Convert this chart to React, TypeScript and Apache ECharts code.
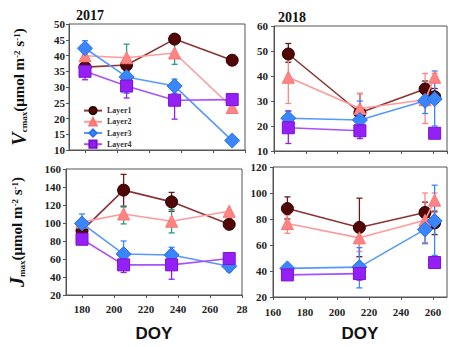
import React, { useEffect, useRef } from "react";
import * as echarts from "echarts";

const layers = ["Layer1", "Layer2", "Layer3", "Layer4"];
const doy2017 = [180, 206, 236, 272];
const doy2018 = [169, 214, 255, 261];

// Vcmax 2017
const v17L1 = [36.3, 37.0, 45.2, 38.5];
const v17L2 = [39.9, 39.3, 40.8, 23.5];
const v17L3 = [42.3, 33.2, 30.3, 13.0];
const v17L4 = [35.0, 30.3, 25.8, 26.0];
const v17E1 = [null, [35, 39], null, null];
const v17E2 = [null, [38.8, 43.6], [37.2, 44.5], null];
const v17E3 = [[40, 44.7], [28, 38.5], [28, 32.5], null];
const v17E4 = [[32.3, 36], [26.5, 34], [19.8, 31], null];

// Vcmax 2018
const v18L1 = [48.8, 25.3, 34.8, 31.7];
const v18L2 = [39.5, 27.0, 30.5, 39.5];
const v18L3 = [23.1, 22.4, 30.1, 30.8];
const v18L4 = [19.3, 18.1, null, 17.1];
const v18E1 = [[45.5, 53], [23, 33], [31, 38], [29, 35]];
const v18E2 = [[29, 49], [22, 33], [21, 41], [33, 41]];
const v18E3 = [[20, 26], [15, 30], [25, 35], [20, 42]];
const v18E4 = [[13, 26], [15, 21], null, null];

// Jmax 2017
const j17L1 = [91.5, 136.5, 123.5, 98.5];
const j17L2 = [101, 110, 102, 113];
const j17L3 = [99.5, 65.5, 64.5, 52];
const j17L4 = [82, 53.5, 53.5, 60.5];
const j17E1 = [[85, 98], [118, 154], [113, 134], null];
const j17E2 = [null, [99, 119], [89, 115], null];
const j17E3 = [[90, 110], [52, 80], [57, 73], [46, 58]];
const j17E4 = [[76, 88], [45, 60], [37.5, 68], null];

// Jmax 2018
const j18L1 = [88, 73.5, 85, 77];
const j18L2 = [76.5, 65.5, 79, 94.5];
const j18L3 = [42, 43, 72, 78.5];
const j18L4 = [37, 38, null, 46.5];
const j18E1 = [[80, 97], [51, 96], [77, 93], [68, 86]];
const j18E2 = [[69, 83], [55, 75], [62, 100], [85, 100]];
const j18E3 = [[39, 45], [27, 58], [61, 83], [52, 106]];
const j18E4 = [null, [33, 43], null, null];

const ticks2017 = [180, 200, 220, 240, 260, 280];

const lineColors = ["#8a3434", "#ff9a9a", "#5598ff", "#a850ff"];
const markColors = ["#520606", "#ff8585", "#3a86ff", "#9520f5"];
const markBorders = ["#2a0000", "#ff7070", "#2a70e0", "#7a10d0"];
const symbols = ["circle", "triangle", "diamond", "rect"];
const sizes = [12, 12, 15, 12];
const errColors2017 = ["#6a1a1a", "#2e9a80", "#3a86ff", "#9520f5"];
const errColors2018 = ["#6a1a1a", "#ff8585", "#3a86ff", "#9520f5"];

const serif = "'Liberation Serif', 'Times New Roman', serif";

function App() {
  const ref = useRef<HTMLDivElement>(null);
  useEffect(() => {
    document.body.style.margin = "0";
    if (!ref.current) return;
    const chart = echarts.init(ref.current, null, { renderer: "svg" });

    const panels = [
      { grid: 0, doy: doy2017, vals: [v17L1, v17L2, v17L3, v17L4], errs: [v17E1, v17E2, v17E3, v17E4], errColors: errColors2017 },
      { grid: 1, doy: doy2018, vals: [v18L1, v18L2, v18L3, v18L4], errs: [v18E1, v18E2, v18E3, v18E4], errColors: errColors2018 },
      { grid: 2, doy: doy2017, vals: [j17L1, j17L2, j17L3, j17L4], errs: [j17E1, j17E2, j17E3, j17E4], errColors: errColors2017 },
      { grid: 3, doy: doy2018, vals: [j18L1, j18L2, j18L3, j18L4], errs: [j18E1, j18E2, j18E3, j18E4], errColors: errColors2018 },
    ];

    const series: any[] = [];
    panels.forEach((p) => {
      p.errs.forEach((errArr: any[], li: number) => {
        const data: any[] = [];
        errArr.forEach((e: any, i: number) => {
          if (e) data.push([p.doy[i], e[0], e[1]]);
        });
        const col = p.errColors[li];
        series.push({
          type: "custom",
          xAxisIndex: p.grid,
          yAxisIndex: p.grid,
          z: 1,
          silent: true,
          encode: { x: 0, y: [1, 2] },
          data,
          renderItem: (params: any, api: any) => {
            const x = api.value(0);
            const lo = api.coord([x, api.value(1)]);
            const hi = api.coord([x, api.value(2)]);
            const c = 3;
            const st = { stroke: col, lineWidth: 1.3 };
            return {
              type: "group",
              children: [
                { type: "line", shape: { x1: hi[0], y1: hi[1], x2: lo[0], y2: lo[1] }, style: st },
                { type: "line", shape: { x1: hi[0] - c, y1: hi[1], x2: hi[0] + c, y2: hi[1] }, style: st },
                { type: "line", shape: { x1: lo[0] - c, y1: lo[1], x2: lo[0] + c, y2: lo[1] }, style: st },
              ],
            };
          },
        });
      });
      p.vals.forEach((vals: any[], li: number) => {
        series.push({
          type: "line",
          name: layers[li],
          xAxisIndex: p.grid,
          yAxisIndex: p.grid,
          z: 2 + li,
          connectNulls: false,
          data: vals.map((v, i) => [p.doy[i], v]),
          symbol: symbols[li],
          symbolSize: sizes[li],
          lineStyle: { color: lineColors[li], width: 1.6 },
          itemStyle: { color: markColors[li], borderColor: markBorders[li], borderWidth: 1 },
        });
      });
    });

    const axisLineStyle = { lineStyle: { color: "#555", width: 1 } };
    const tickStyle = { show: true, length: 3, lineStyle: { color: "#555" } };
    const labelStyle = { fontFamily: serif, fontWeight: "bold" as const, fontSize: 11, color: "#222" };

    const yName = (letter: string, sub: string) =>
      `{v|${letter}}{sub|${sub}}{m|(μmol m}{sup|-2}{m| s}{sup|-1}{m|)}`;
    const yRich = {
      v: { fontFamily: serif, fontStyle: "italic", fontWeight: "bold", fontSize: 20, color: "#111", verticalAlign: "middle" },
      sub: { fontFamily: serif, fontWeight: "bold", fontSize: 9, color: "#111", verticalAlign: "bottom", padding: [0, 0, 1, 0] },
      m: { fontFamily: serif, fontWeight: "bold", fontSize: 15, color: "#111", verticalAlign: "middle" },
      sup: { fontFamily: serif, fontWeight: "bold", fontSize: 9, color: "#111", verticalAlign: "top", padding: [3, 0, 0, 0] },
    };

    const option: any = {
      animation: false,
      title: [
        { text: "2017", left: 71, top: 3, textStyle: { fontFamily: serif, fontWeight: "bold", fontSize: 14, color: "#111" } },
        { text: "2018", left: 273, top: 5, textStyle: { fontFamily: serif, fontWeight: "bold", fontSize: 14, color: "#111" } },
      ],
      legend: {
        data: layers,
        orient: "vertical",
        left: 78,
        top: 101,
        itemGap: 2,
        itemWidth: 18,
        itemHeight: 9,
        textStyle: { fontFamily: serif, fontWeight: "bold", fontSize: 8, color: "#333" },
      },
      grid: [
        { left: 69, top: 24, width: 176, height: 126, show: true, borderColor: "#555", borderWidth: 1 },
        { left: 274, top: 26, width: 173, height: 125, show: true, borderColor: "#555", borderWidth: 1 },
        { left: 66, top: 169, width: 176, height: 126, show: true, borderColor: "#555", borderWidth: 1 },
        { left: 273, top: 167, width: 174, height: 130, show: true, borderColor: "#555", borderWidth: 1 },
      ],
      xAxis: [
        {
          gridIndex: 0, type: "value", min: 170, max: 280,
          axisLine: axisLineStyle, splitLine: { show: false },
          axisTick: { ...tickStyle, customValues: ticks2017 },
          axisLabel: { show: false },
        },
        {
          gridIndex: 1, type: "value", min: 160, max: 268.75, interval: 20,
          axisLine: axisLineStyle, splitLine: { show: false },
          axisTick: tickStyle, axisLabel: { show: false },
        },
        {
          gridIndex: 2, type: "value", min: 170, max: 280,
          axisLine: axisLineStyle, splitLine: { show: false },
          axisTick: { ...tickStyle, customValues: ticks2017 },
          axisLabel: { ...labelStyle, customValues: ticks2017, margin: 8, formatter: (v: number) => (v === 280 ? "28" : String(v)) },
          name: "DOY", nameLocation: "middle", nameGap: 30,
          nameTextStyle: { fontFamily: "'Liberation Sans', Arial, sans-serif", fontWeight: "bold", fontSize: 17, color: "#111" },
        },
        {
          gridIndex: 3, type: "value", min: 160, max: 268.75, interval: 20,
          axisLine: axisLineStyle, splitLine: { show: false },
          axisTick: tickStyle,
          axisLabel: { ...labelStyle, margin: 9, showMaxLabel: false },
          name: "DOY", nameLocation: "middle", nameGap: 28,
          nameTextStyle: { fontFamily: "'Liberation Sans', Arial, sans-serif", fontWeight: "bold", fontSize: 17, color: "#111" },
        },
      ],
      yAxis: [
        {
          gridIndex: 0, type: "value", min: 10, max: 50, interval: 5,
          axisLine: { show: true, ...axisLineStyle }, splitLine: { show: false },
          axisTick: tickStyle, axisLabel: { ...labelStyle, margin: 4 },
          name: yName("V", "cmax"), nameLocation: "middle", nameRotate: 90, nameGap: 40,
          nameTextStyle: { rich: yRich },
        },
        {
          gridIndex: 1, type: "value", min: 10, max: 60, interval: 10,
          axisLine: { show: true, ...axisLineStyle }, splitLine: { show: false },
          axisTick: tickStyle, axisLabel: { ...labelStyle, margin: 6 },
        },
        {
          gridIndex: 2, type: "value", min: 20, max: 160, interval: 20,
          axisLine: { show: true, ...axisLineStyle }, splitLine: { show: false },
          axisTick: tickStyle, axisLabel: { ...labelStyle, margin: 5 },
          name: yName("J", "max"), nameLocation: "middle", nameRotate: 90, nameGap: 39,
          nameTextStyle: { rich: yRich },
        },
        {
          gridIndex: 3, type: "value", min: 20, max: 120, interval: 20,
          axisLine: { show: true, ...axisLineStyle }, splitLine: { show: false },
          axisTick: tickStyle, axisLabel: { ...labelStyle, margin: 6 },
        },
      ],
      series,
    };
    chart.setOption(option);
    return () => chart.dispose();
  }, []);
  return <div ref={ref} style={{ width: 449, height: 347, background: "#fff" }} />;
}

export default App;
